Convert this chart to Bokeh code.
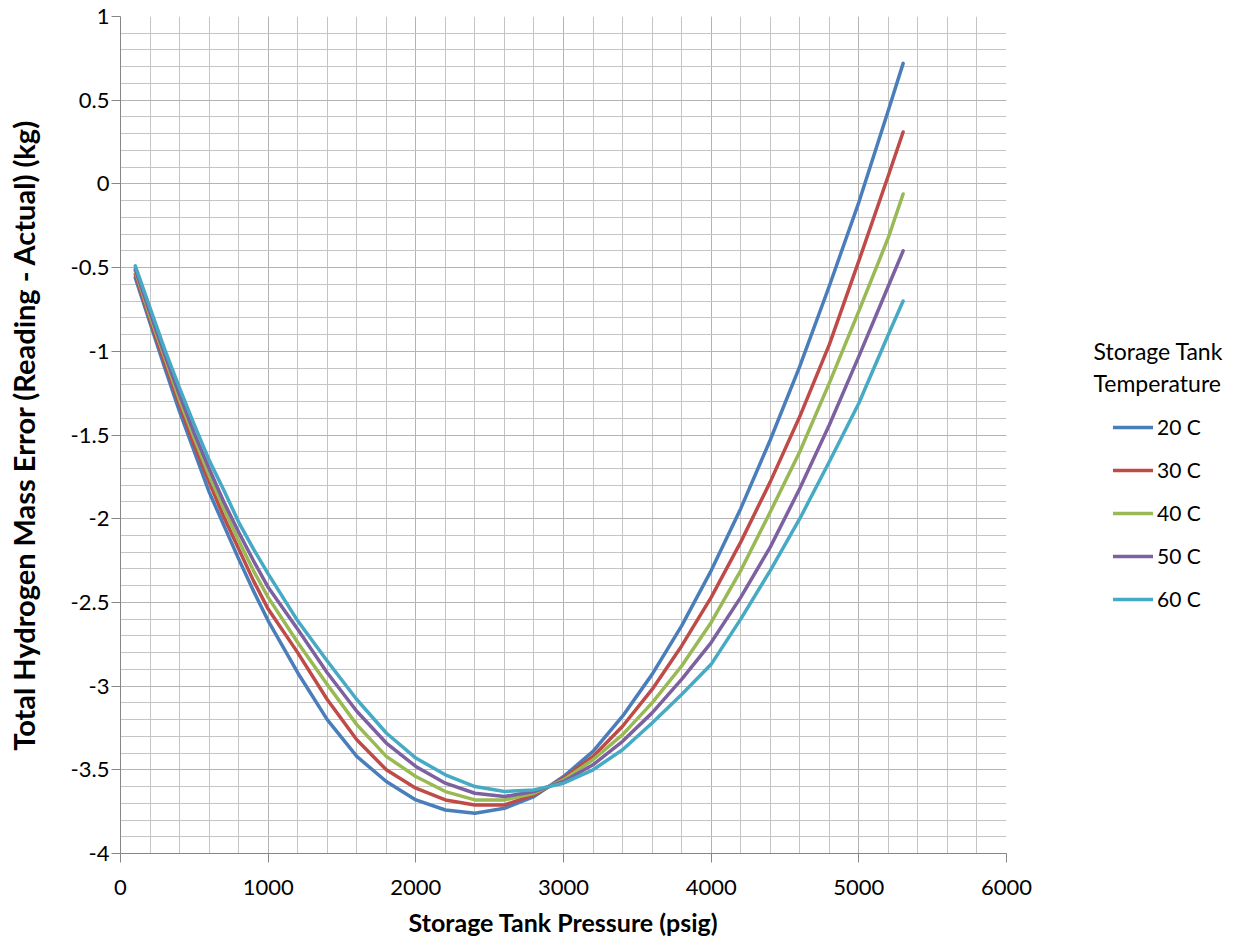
from bokeh.plotting import figure
from bokeh.layouts import row
from bokeh.models import (SingleIntervalTicker, NumeralTickFormatter, Legend, LegendItem,
                          Label, Range1d)
from bokeh.embed import file_html
from bokeh.resources import INLINE

# ---- data ----
pressure = [100, 200, 300, 400, 500, 600, 700, 800, 900, 1000, 1200, 1400, 1600, 1800,
            2000, 2200, 2400, 2600, 2800, 3000, 3200, 3400, 3600, 3800, 4000, 4200,
            4400, 4600, 4800, 5000, 5200, 5300]

temp_labels = ["20 C", "30 C", "40 C", "50 C", "60 C"]
legend_title_lines = ["Storage Tank", "Temperature"]

err_20c = [-0.56, -0.83, -1.10, -1.36, -1.60, -1.84, -2.04, -2.24, -2.43, -2.61, -2.92, -3.20,
           -3.42, -3.57, -3.68, -3.74, -3.76, -3.73, -3.66, -3.54, -3.39, -3.18, -2.93, -2.64,
           -2.31, -1.94, -1.53, -1.09, -0.61, -0.11, 0.44, 0.72]
err_30c = [-0.54, -0.81, -1.07, -1.32, -1.56, -1.78, -1.99, -2.18, -2.37, -2.54, -2.80, -3.08,
           -3.32, -3.50, -3.61, -3.68, -3.71, -3.71, -3.65, -3.55, -3.42, -3.24, -3.02, -2.76,
           -2.47, -2.14, -1.78, -1.39, -0.96, -0.46, 0.05, 0.31]
err_40c = [-0.52, -0.79, -1.04, -1.29, -1.52, -1.74, -1.94, -2.13, -2.31, -2.47, -2.74, -2.99,
           -3.23, -3.42, -3.54, -3.63, -3.68, -3.68, -3.64, -3.56, -3.44, -3.29, -3.10, -2.88,
           -2.62, -2.31, -1.96, -1.60, -1.19, -0.76, -0.32, -0.06]
err_50c = [-0.51, -0.77, -1.02, -1.26, -1.49, -1.70, -1.90, -2.08, -2.25, -2.41, -2.66, -2.92,
           -3.15, -3.34, -3.48, -3.58, -3.64, -3.66, -3.63, -3.57, -3.47, -3.33, -3.16, -2.96,
           -2.74, -2.47, -2.17, -1.82, -1.44, -1.03, -0.61, -0.40]
err_60c = [-0.49, -0.74, -0.99, -1.22, -1.44, -1.65, -1.83, -2.02, -2.18, -2.33, -2.61, -2.85,
           -3.08, -3.28, -3.43, -3.53, -3.60, -3.63, -3.62, -3.58, -3.50, -3.38, -3.22, -3.05,
           -2.87, -2.60, -2.31, -2.00, -1.66, -1.31, -0.90, -0.70]

series = [err_20c, err_30c, err_40c, err_50c, err_60c]
colors = ["#4A7EBB", "#BE4B48", "#98B954", "#7D60A0", "#46AAC5"]

FONT = "Lato"
H = 939
FRAME_TOP = 16
FRAME_BOTTOM = 856

# ---------------- main chart ----------------
p = figure(width=1033, height=H, output_backend="svg", toolbar_location=None,
           x_range=Range1d(0, 6000), y_range=Range1d(-4, 1),
           min_border_left=120, min_border_right=27, min_border_top=FRAME_TOP,
           min_border_bottom=H - FRAME_BOTTOM)
p.outline_line_color = None
p.background_fill_color = "white"
p.border_fill_color = "white"

xt = SingleIntervalTicker(interval=1000, num_minor_ticks=5)
yt = SingleIntervalTicker(interval=0.5, num_minor_ticks=5)
p.xaxis.ticker = xt
p.yaxis.ticker = yt
p.xgrid.ticker = xt
p.ygrid.ticker = yt

for g in (p.xgrid, p.ygrid):
    g.grid_line_color = "#b4b4b4"
    g.grid_line_width = 1
    g.minor_grid_line_color = "#c4c4c4"
    g.minor_grid_line_width = 1

p.yaxis.formatter = NumeralTickFormatter(format="0.[0]")

for ax in (p.xaxis, p.yaxis):
    ax.axis_line_color = "#868686"
    ax.axis_line_width = 1
    ax.major_tick_line_color = "#868686"
    ax.major_tick_out = 9
    ax.major_tick_in = 0
    ax.minor_tick_line_color = None
    ax.major_label_text_font = FONT
    ax.major_label_text_font_size = "22px"
    ax.major_label_text_color = "#000000"
    ax.axis_label_text_font = FONT
    ax.axis_label_text_font_style = "bold"
    ax.axis_label_text_color = "#000000"

p.xaxis.axis_label = "Storage Tank Pressure (psig)"
p.yaxis.axis_label = "Total Hydrogen Mass Error (Reading - Actual) (kg)"
p.xaxis.axis_label_text_font_size = "25px"
p.yaxis.axis_label_text_font_size = "29px"
p.xaxis.major_label_standoff = 17
p.yaxis.major_label_standoff = 2
p.xaxis.axis_label_standoff = 9
p.yaxis.axis_label_standoff = 27

for vals, col in zip(series, colors):
    p.line(pressure, vals, line_color=col, line_width=3.5, line_join="round", line_cap="round")

# ---------------- legend panel (frame aligned with the chart's frame) ----------------
lg = figure(width=204, height=H, output_backend="svg", toolbar_location=None,
            x_range=Range1d(0, 1), y_range=Range1d(0, 1),
            x_axis_location=None, y_axis_location=None, min_border=0)
lg.outline_line_color = None
lg.xgrid.visible = False
lg.ygrid.visible = False

items = []
for lab, vals, col in zip(temp_labels, series, colors):
    # the series lie far outside this panel's 0..1 ranges: only the legend swatch shows
    r = lg.line(pressure, vals, line_color=col, line_width=3.5, line_cap="round")
    items.append(LegendItem(label=lab, renderers=[r]))

# tuple location = bottom-left corner of the legend box, measured from the frame's bottom-left
legend = Legend(items=items, location=(80, FRAME_BOTTOM - 614), padding=0, margin=0,
                border_line_color=None, background_fill_alpha=0,
                glyph_width=40, glyph_height=20, label_height=20, spacing=18,
                label_standoff=4, label_text_font=FONT, label_text_font_size="21px",
                label_text_color="#000000")
lg.add_layout(legend, "center")

for txt, base in zip(legend_title_lines, (353, 385)):
    lg.add_layout(Label(x=60, y=FRAME_BOTTOM - base, x_units="screen", y_units="screen",
                        text=txt, text_font=FONT, text_font_size="23px", text_color="#000000",
                        text_baseline="alphabetic", text_align="left"))

layout = row(p, lg)
open("out.html", "w").write(file_html(layout, INLINE))
